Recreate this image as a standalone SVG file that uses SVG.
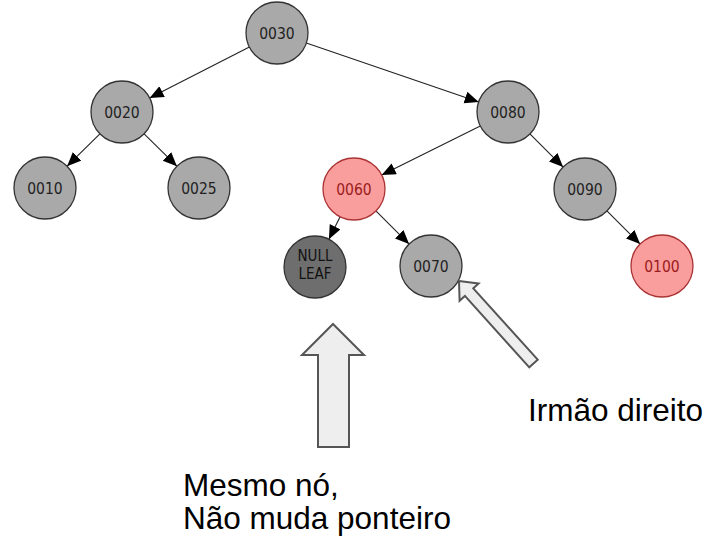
<svg xmlns="http://www.w3.org/2000/svg" width="705" height="542" viewBox="0 0 705 542">
<style>
.n circle{stroke:#333;stroke-width:1.3}
.g circle{fill:#a9a9a9}
.r circle{fill:#fa9d9d;stroke:#a33}
.d circle{fill:#6e6e6e}
.n text{font-family:"DejaVu Sans Condensed","DejaVu Sans",sans-serif;font-size:15.5px;text-anchor:middle;fill:#222}
.d text{font-size:15px;fill:#111}
.r text{fill:#9b1c1c}
.e line{stroke:#222;stroke-width:1.1;marker-end:url(#ah)}
.big{fill:#eeeeee;stroke:#555;stroke-width:2;stroke-linejoin:miter}
.lbl{font-family:"Liberation Sans",Arial,sans-serif;font-size:31.5px;fill:#000}
</style>
<defs>
<marker id="ah" markerUnits="userSpaceOnUse" markerWidth="15" markerHeight="13" refX="14" refY="6" orient="auto">
<path d="M0,0 L14,6 L0,12 z" fill="#000"/>
</marker>
</defs>
<g id="edges" class="e">
<line x1="249.4" y1="47.1" x2="149.6" y2="97.9"/>
<line x1="306.3" y1="43" x2="478.7" y2="102"/>
<line x1="99.9" y1="133.8" x2="67.1" y2="166.2"/>
<line x1="144.1" y1="133.8" x2="176.9" y2="166.2"/>
<line x1="480.3" y1="125.9" x2="381.7" y2="175.1"/>
<line x1="529.9" y1="133.9" x2="563.1" y2="167.1"/>
<line x1="340.1" y1="216.7" x2="328.9" y2="239.3"/>
<line x1="375.9" y1="210.9" x2="409.1" y2="244.1"/>
<line x1="606.9" y1="210.9" x2="640.1" y2="244.1"/>
</g>
<g id="n0030" class="n g"><circle cx="277" cy="33" r="31"/><text x="277" y="38.5">0030</text></g>
<g id="n0020" class="n g"><circle cx="122" cy="112" r="31"/><text x="122" y="117.5">0020</text></g>
<g id="n0010" class="n g"><circle cx="45" cy="188" r="31"/><text x="45" y="193.5">0010</text></g>
<g id="n0025" class="n g"><circle cx="199" cy="188" r="31"/><text x="199" y="193.5">0025</text></g>
<g id="n0080" class="n g"><circle cx="508" cy="112" r="31"/><text x="508" y="117.5">0080</text></g>
<g id="n0060" class="n r"><circle cx="354" cy="189" r="31"/><text x="354" y="194.5">0060</text></g>
<g id="n0090" class="n g"><circle cx="585" cy="189" r="31"/><text x="585" y="194.5">0090</text></g>
<g id="nnull" class="n d"><circle cx="315" cy="267" r="31"/><text x="315" y="261">NULL</text><text x="315" y="279">LEAF</text></g>
<g id="n0070" class="n g"><circle cx="431" cy="266" r="31"/><text x="431" y="271.5">0070</text></g>
<g id="n0100" class="n r"><circle cx="662" cy="266" r="31"/><text x="662" y="271.5">0100</text></g>
<g id="arrow-up"><polygon class="big" points="333,324 364,355 349,355 349,447 318,447 318,355 302,355"/></g>
<g id="arrow-diag"><polygon class="big" points="459,281 478.6,283.5 473.3,288.3 537.7,359.7 529.3,367.3 464.9,295.9 459.6,300.7"/></g>
<g id="label-irmao"><text class="lbl" x="528" y="421">Irmão direito</text></g>
<g id="label-mesmo"><text class="lbl" x="183" y="496">Mesmo nó,</text><text class="lbl" x="183" y="529">Não muda ponteiro</text></g>
</svg>
